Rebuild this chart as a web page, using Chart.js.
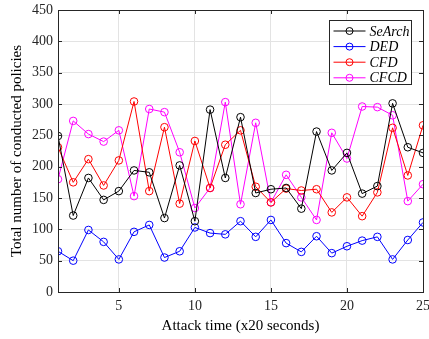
<!DOCTYPE html>
<html>
<head>
<meta charset="utf-8">
<script src="https://cdn.jsdelivr.net/npm/chart.js@4/dist/chart.umd.min.js"></script>
<style>
  html, body { margin: 0; padding: 0; background: #fff; }
  #wrap { width: 429px; height: 339px; }
</style>
</head>
<body>
<div id="wrap"><canvas id="chart"></canvas></div>
<script>
const attackTimes = [1, 2, 3, 4, 5, 6, 7, 8, 9, 10, 11, 12, 13, 14, 15, 16, 17, 18, 19, 20, 21, 22, 23, 24, 25];
const searchValues = [249, 122, 182, 147, 161, 194, 191, 118, 202, 113, 291, 182, 279, 158, 164, 166, 133, 256, 194, 222, 157, 169, 301, 231, 222];
const dedValues = [65, 50, 99, 80, 52, 96, 107, 55, 65, 103, 94, 92, 113, 88, 115, 78, 64, 89, 62, 73, 82, 88, 52, 83, 111];
const cfdValues = [231, 175, 212, 170, 210, 304, 161, 263, 141, 241, 166, 235, 258, 168, 143, 165, 162, 164, 127, 151, 121, 159, 262, 186, 266];
const cfcdValues = [180, 273, 252, 240, 258, 153, 292, 287, 223, 134, 166, 303, 140, 270, 143, 187, 151, 115, 254, 213, 296, 295, 282, 145, 172];
const xTicks = [5, 10, 15, 20, 25];
const seriesNames = ["SeArch", "DED", "CFD", "CFCD"];
const seriesColors = ["#000000", "#0000ff", "#ff0000", "#ff00ff"];

const serif = "'Liberation Serif', 'DejaVu Serif', serif";

function makeSeries(i, values) {
  return {
    label: seriesNames[i],
    data: values.map((v, k) => ({ x: attackTimes[k], y: v })),
    borderColor: seriesColors[i],
    backgroundColor: "rgba(0,0,0,0)",
    borderWidth: 1,
    pointRadius: 3.8,
    pointBorderWidth: 1,
    pointBackgroundColor: "rgba(0,0,0,0)",
    pointBorderColor: seriesColors[i],
    tension: 0
  };
}

// box around the axes, inward ticks and the legend
const frame = {
  id: "frame",
  afterDraw(chart) {
    const ctx = chart.ctx;
    const a = chart.chartArea;
    const xs = chart.scales.x, ys = chart.scales.y;
    ctx.save();
    ctx.strokeStyle = "#262626";
    ctx.lineWidth = 1;
    ctx.strokeRect(Math.round(a.left) + 0.5, Math.round(a.top) + 0.5,
      Math.round(a.right - a.left), Math.round(a.bottom - a.top));
    ctx.beginPath();
    xTicks.forEach(v => {
      const px = Math.round(xs.getPixelForValue(v)) + 0.5;
      ctx.moveTo(px, a.bottom); ctx.lineTo(px, a.bottom - 4);
      ctx.moveTo(px, a.top); ctx.lineTo(px, a.top + 4);
    });
    for (let v = 50; v < 450; v += 50) {
      const py = Math.round(ys.getPixelForValue(v)) + 0.5;
      ctx.moveTo(a.left, py); ctx.lineTo(a.left + 4, py);
      ctx.moveTo(a.right, py); ctx.lineTo(a.right - 4, py);
    }
    ctx.stroke();

    // legend
    const bx = 329.5, by = 20.5, bw = 82, bh = 64;
    ctx.fillStyle = "#fff";
    ctx.fillRect(bx, by, bw, bh);
    ctx.strokeStyle = "#262626";
    ctx.strokeRect(bx, by, bw, bh);
    ctx.font = "italic 14px " + serif;
    ctx.textBaseline = "middle";
    seriesNames.forEach((name, i) => {
      const y = by + 10.5 + i * 15.6;
      ctx.strokeStyle = seriesColors[i];
      ctx.beginPath();
      ctx.moveTo(bx + 4, y); ctx.lineTo(bx + 36, y);
      ctx.stroke();
      ctx.beginPath();
      ctx.arc(bx + 20, y, 3.5, 0, Math.PI * 2);
      ctx.stroke();
      ctx.fillStyle = "#000";
      ctx.fillText(name, bx + 40, y + 1);
    });
    ctx.restore();
  }
};

new Chart(document.getElementById("chart"), {
  type: "line",
  data: {
    datasets: [
      makeSeries(0, searchValues),
      makeSeries(1, dedValues),
      makeSeries(2, cfdValues),
      makeSeries(3, cfcdValues)
    ]
  },
  options: {
    responsive: true,
    maintainAspectRatio: false,
    animation: false,
    devicePixelRatio: 1,
    layout: { padding: { top: 10, right: 6, left: 8, bottom: 4 } },
    plugins: { legend: { display: false }, tooltip: { enabled: false } },
    scales: {
      x: {
        type: "linear",
        min: 1,
        max: 25,
        afterBuildTicks: s => { s.ticks = xTicks.map(v => ({ value: v })); },
        afterFit: s => { s.height = 43; s.paddingLeft = 0; s.paddingRight = 0; },
        grid: { color: "#e3e3e3", drawTicks: false },
        border: { display: false },
        ticks: { color: "#262626", font: { family: serif, size: 14 }, padding: 6, maxRotation: 0 },
        title: {
          display: true,
          text: "Attack time (x20 seconds)",
          color: "#000",
          font: { family: serif, size: 15 },
          padding: { top: 2, bottom: 0 }
        }
      },
      y: {
        min: 0,
        max: 450,
        afterFit: s => { s.width = 50; s.paddingTop = 0; s.paddingBottom = 0; },
        grid: { color: "#e3e3e3", drawTicks: false },
        border: { display: false },
        ticks: { stepSize: 50, color: "#262626", font: { family: serif, size: 14 }, padding: 5 },
        title: {
          display: true,
          text: "Total number of conducted policies",
          color: "#000",
          font: { family: serif, size: 15 },
          padding: { top: 0, bottom: 2 }
        }
      }
    }
  },
  plugins: [frame]
});
</script>
</body>
</html>
